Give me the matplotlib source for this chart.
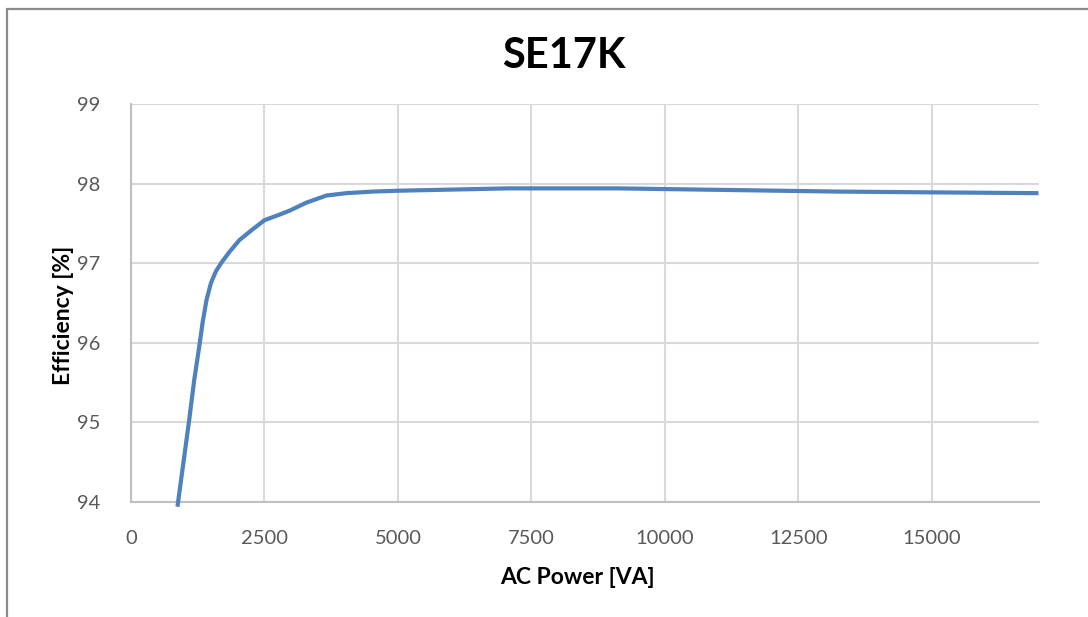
import matplotlib
matplotlib.use("Agg")
import matplotlib.pyplot as plt
from matplotlib.patches import Rectangle

title = "SE17K"
x_label = "AC Power [VA]"
y_label = "Efficiency [%]"

power_va = [870, 1090, 1184, 1291, 1340, 1415, 1497, 1592, 1697, 1842, 2030,
            2250, 2500, 2782, 2970, 3283, 3660, 4036, 4536, 4976, 7062, 9111,
            11160, 13214, 15000, 17000]
efficiency = [93.94, 95.03, 95.53, 96.01, 96.25, 96.54, 96.75, 96.90, 97.01,
              97.14, 97.29, 97.41, 97.54, 97.61, 97.66, 97.76, 97.85, 97.88,
              97.90, 97.91, 97.94, 97.94, 97.92, 97.90, 97.89, 97.88]

x_ticks = [0, 2500, 5000, 7500, 10000, 12500, 15000]
y_ticks = [94, 95, 96, 97, 98, 99]

plt.rcParams['font.family'] = ['Lato', 'DejaVu Sans']

W, H = 1088, 617
fig = plt.figure(figsize=(W / 100, H / 100), dpi=100)
fig.patch.set_facecolor('white')

# outer chart border
fig.patches.append(Rectangle((6.5 / W, -0.1), 1.2, 1 - 8.5 / H + 0.1,
                             transform=fig.transFigure, fill=False,
                             edgecolor='#8C8C8C', linewidth=1.6))

ax = fig.add_axes([131 / W, 1 - 502 / H, (1038.5 - 131) / W, (502 - 104) / H])
ax.plot(power_va, efficiency, color='#4F81BD', linewidth=3.0,
        solid_capstyle='butt', solid_joinstyle='round', zorder=3, clip_on=False)

ax.set_xlim(0, 17000)
ax.set_ylim(94, 99)
ax.set_xticks(x_ticks)
ax.set_yticks(y_ticks)
ax.set_xticklabels([str(v) for v in x_ticks])
ax.set_yticklabels([str(v) for v in y_ticks])
ax.tick_params(axis='both', length=0, labelsize=14.5, labelcolor='#595959')
ax.tick_params(axis='x', pad=20)
ax.tick_params(axis='y', pad=22)

ax.grid(True, color='#D9D9D9', linewidth=1.5, zorder=0)
ax.set_axisbelow(True)
for s in ['top', 'right']:
    ax.spines[s].set_visible(False)
for s in ['left', 'bottom']:
    ax.spines[s].set_color('#BFBFBF')
    ax.spines[s].set_linewidth(1.5)

fig.text(564 / W, 1 - 56 / H, title, ha='center', va='center',
         fontsize=30, fontweight='bold', color='black')
fig.text(577 / W, 1 - 578 / H, x_label, ha='center', va='center',
         fontsize=16.5, fontweight='bold', color='black')
fig.text(63 / W, 1 - 315 / H, y_label, ha='center', va='center',
         rotation=90, fontsize=16.5, fontweight='bold', color='black')

fig.savefig('out.png', dpi=100, facecolor='white')
